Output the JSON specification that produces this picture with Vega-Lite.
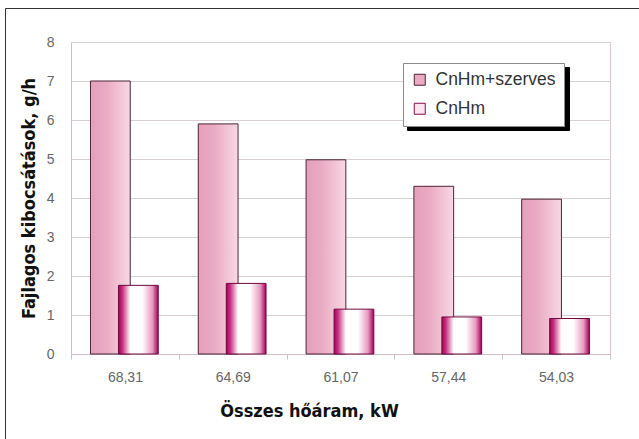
{
  "$schema": "https://vega.github.io/schema/vega-lite/v6.json",
  "autosize": {"type": "none"},
  "padding": {"left": 71, "top": 42, "right": 29, "bottom": 85},
  "width": 539,
  "height": 312,
  "background": "white",
  "data": {
    "values": [
      {"kw": "68,31", "series": "CnHm+szerves", "value": 7.0},
      {"kw": "64,69", "series": "CnHm+szerves", "value": 5.9},
      {"kw": "61,07", "series": "CnHm+szerves", "value": 4.98},
      {"kw": "57,44", "series": "CnHm+szerves", "value": 4.3},
      {"kw": "54,03", "series": "CnHm+szerves", "value": 3.97},
      {"kw": "68,31", "series": "CnHm", "value": 1.76},
      {"kw": "64,69", "series": "CnHm", "value": 1.81},
      {"kw": "61,07", "series": "CnHm", "value": 1.15},
      {"kw": "57,44", "series": "CnHm", "value": 0.95},
      {"kw": "54,03", "series": "CnHm", "value": 0.91}
    ]
  },
  "encoding": {
    "x": {
      "field": "kw", "type": "nominal", "sort": null,
      "scale": {"paddingInner": 0, "paddingOuter": 0},
      "axis": {
        "title": "Összes hőáram, kW",
        "labelAngle": 0,
        "labelFont": "Liberation Sans",
        "labelFontSize": 14,
        "labelColor": "#666666",
        "labelPadding": 11,
        "ticks": true,
        "tickBand": "extent",
        "tickSize": 5,
        "tickColor": "#d2bcc6",
        "domainColor": "#d2bcc6",
        "titleFont": "Liberation Sans Narrow, DejaVu Sans Condensed, sans-serif",
        "titleFontSize": 18,
        "titleFontWeight": "bold",
        "titleColor": "#111111",
        "titlePadding": 18,
        "titleX": 238
      }
    },
    "xOffset": {
      "field": "series", "type": "nominal",
      "scale": {"domain": ["CnHm+szerves", "CnHm"], "paddingInner": 0, "paddingOuter": 0.925, "align": 0.813}
    },
    "y": {
      "field": "value", "type": "quantitative", "stack": null,
      "scale": {"domain": [0, 8], "nice": false},
      "axis": {
        "title": "Fajlagos kibocsátások, g/h",
        "values": [0, 1, 2, 3, 4, 5, 6, 7, 8],
        "labelFont": "Liberation Sans",
        "labelFontSize": 14,
        "labelColor": "#666666",
        "labelPadding": 17,
        "ticks": false,
        "domainColor": "#e2b8c8",
        "gridColor": "#d9cfd3",
        "titleFont": "Liberation Sans Narrow, DejaVu Sans Condensed, sans-serif",
        "titleFontSize": 18,
        "titleFontWeight": "bold",
        "titleColor": "#111111",
        "titlePadding": 8
      }
    }
  },
  "layer": [
    {
      "transform": [{"filter": "datum.series === 'CnHm+szerves'"}],
      "mark": {
        "type": "bar", "strokeWidth": 1, "width": {"band": 1.42}, "stroke": "#4a2535",
        "fill": {"gradient": "linear", "stops": [
          {"offset": 0, "color": "#e59fba"},
          {"offset": 0.4, "color": "#eaabc3"},
          {"offset": 1, "color": "#f8d8e4"}
        ]}
      }
    },
    {
      "transform": [{"filter": "datum.series === 'CnHm'"}],
      "mark": {
        "type": "bar", "strokeWidth": 1, "width": {"band": 1.42}, "stroke": "#6e0a3e",
        "fill": {"gradient": "linear", "stops": [
          {"offset": 0, "color": "#a5005a"},
          {"offset": 0.1, "color": "#c8307f"},
          {"offset": 0.3, "color": "#ffffff"},
          {"offset": 0.6, "color": "#ffffff"},
          {"offset": 0.85, "color": "#e79bc0"},
          {"offset": 1, "color": "#a5005a"}
        ]}
      }
    },
    {
      "mark": {"type": "point", "opacity": 0},
      "encoding": {
        "shape": {
          "field": "series", "type": "nominal",
          "scale": {"domain": ["CnHm+szerves"], "range": ["square"]},
          "legend": {
            "title": null, "symbolOpacity": 0, "symbolSize": 4, "labelExpr": "''",
            "legendX": -66, "legendY": -34, "padding": 230, "labelOffset": 200,
            "fillColor": "transparent", "strokeColor": "#333333", "zindex": 0
          }
        }
      }
    },
    {
      "mark": {"type": "bar", "opacity": 0, "strokeWidth": 1, "width": {"band": 1.42}},
      "encoding": {
        "color": {
          "field": "series", "type": "nominal",
          "scale": {"domain": ["CnHm", "CnHm+szerves"], "range": ["#000000", "#000000"]},
          "legend": {
            "title": null, "symbolOpacity": 1, "legendX": 336, "legendY": 25,
            "labelExpr": "''", "labelOffset": 128,
            "fillColor": "#000000", "strokeColor": "#000000", "zindex": 0
          }
        }
      }
    },
    {
      "mark": {"type": "bar", "opacity": 0, "strokeWidth": 1, "width": {"band": 1.42}},
      "encoding": {
        "fill": {
          "field": "series", "type": "nominal",
          "scale": {"domain": ["CnHm+szerves", "CnHm"], "range": ["#eaaac2", "#fbe6ef"]},
          "legend": {"title": null, "symbolOpacity": 1, "zindex": 1}
        },
        "stroke": {
          "field": "series", "type": "nominal",
          "scale": {"domain": ["CnHm+szerves", "CnHm"], "range": ["#4a2535", "#8a0a4e"]},
          "legend": {"title": null, "symbolOpacity": 1, "zindex": 1}
        }
      }
    }
  ],
  "config": {
    "view": {"stroke": "#e6c3d1", "strokeWidth": 1},
    "legend": {
      "orient": "none",
      "legendX": 332,
      "legendY": 21,
      "fillColor": "white",
      "strokeColor": "#8c8c8c",
      "padding": 8,
      "symbolType": "square",
      "symbolSize": 121,
      "symbolStrokeWidth": 1,
      "symbolOpacity": 1,
      "labelFont": "Liberation Sans",
      "labelFontSize": 17.5,
      "labelColor": "#333333",
      "labelOffset": 7,
      "rowPadding": 10
    }
  }
}
